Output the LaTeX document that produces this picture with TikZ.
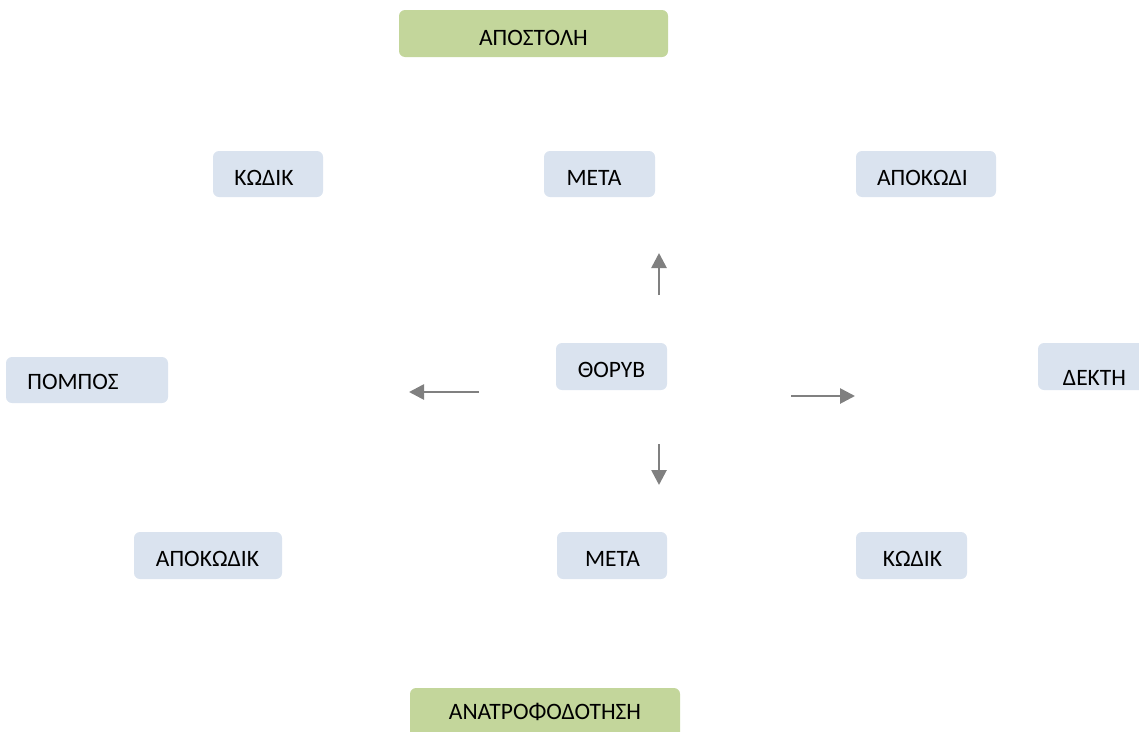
\documentclass[tikz,border=0pt]{standalone}
\usepackage{fontspec}
\setmainfont{Carlito}
\usepackage{xcolor}
\usetikzlibrary{arrows.meta}
\definecolor{boxblue}{HTML}{DAE3EF}
\definecolor{boxgreen}{HTML}{C3D69B}
\definecolor{arrowgray}{HTML}{808080}

\begin{document}
\begin{tikzpicture}[
  x=1pt,y=-1pt,
  card/.style={fill=boxblue,rounded corners=6pt,inner sep=0pt,minimum height=46pt},
  greencard/.style={fill=boxgreen,rounded corners=6pt,inner sep=0pt,minimum height=47pt},
  lbl/.style={anchor=base,inner sep=0pt,font=\fontsize{23.5}{28}\selectfont},
  arr/.style={-{Triangle[length=15pt,width=15pt]},line width=2.7pt,draw=arrowgray}
]
\useasboundingbox (0,0) rectangle (1139,731);

% top and bottom bars
\node[greencard,minimum width=269pt] (apostoli) at (533.5,33.5) {};
\node[lbl] (apostoli-t) at (533.5,45) {ΑΠΟΣΤΟΛΗ};
\node[greencard,minimum width=270pt,minimum height=57pt] (anatrofodotisi) at (545,716.5) {};
\node[lbl] (anatrofodotisi-t) at (545,719) {ΑΝΑΤΡΟΦΟΔΟΤΗΣΗ};

% upper row
\node[card,minimum width=110pt] (kodikA) at (268,174) {};
\node[lbl] (kodikA-t) at (264,185) {ΚΩΔΙΚ};
\node[card,minimum width=111pt] (metaA) at (599.5,174) {};
\node[lbl] (metaA-t) at (594,185) {ΜΕΤΑ};
\node[card,minimum width=140pt] (apokodi) at (926,174) {};
\node[lbl] (apokodi-t) at (922.5,185) {ΑΠΟΚΩΔΙ};

% middle row
\node[card,minimum width=162pt] (pompos) at (87,380) {};
\node[lbl] (pompos-t) at (73,389) {ΠΟΜΠΟΣ};
\node[card,minimum width=111pt,minimum height=47pt] (thoryvos) at (611.5,366.5) {};
\node[lbl] (thoryvos-t) at (611.5,377) {ΘΟΡΥΒ};
\node[card,minimum width=130pt,minimum height=47pt] (dektis) at (1103,366.5) {};
\node[lbl] (dektis-t) at (1094.5,385) {ΔΕΚΤΗ};

% lower row
\node[card,minimum width=148pt,minimum height=47pt] (apokodik) at (208,555.5) {};
\node[lbl] (apokodik-t) at (207.5,566) {ΑΠΟΚΩΔΙΚ};
\node[card,minimum width=110pt,minimum height=47pt] (metaB) at (612,555.5) {};
\node[lbl] (metaB-t) at (612.5,566) {ΜΕΤΑ};
\node[card,minimum width=111pt,minimum height=47pt] (kodikB) at (911.5,555.5) {};
\node[lbl] (kodikB-t) at (912.5,566) {ΚΩΔΙΚ};

% arrows round the noise box
\coordinate (up-s) at (659,295);
\coordinate (up-e) at (659,253);
\coordinate (down-s) at (659,444);
\coordinate (down-e) at (659,485);
\coordinate (left-s) at (479,392);
\coordinate (left-e) at (409,392);
\coordinate (right-s) at (791,396);
\coordinate (right-e) at (855,396);

\draw[arr] (up-s) -- (up-e);
\draw[arr] (down-s) -- (down-e);
\draw[arr] (left-s) -- (left-e);
\draw[arr] (right-s) -- (right-e);
\end{tikzpicture}
\end{document}
